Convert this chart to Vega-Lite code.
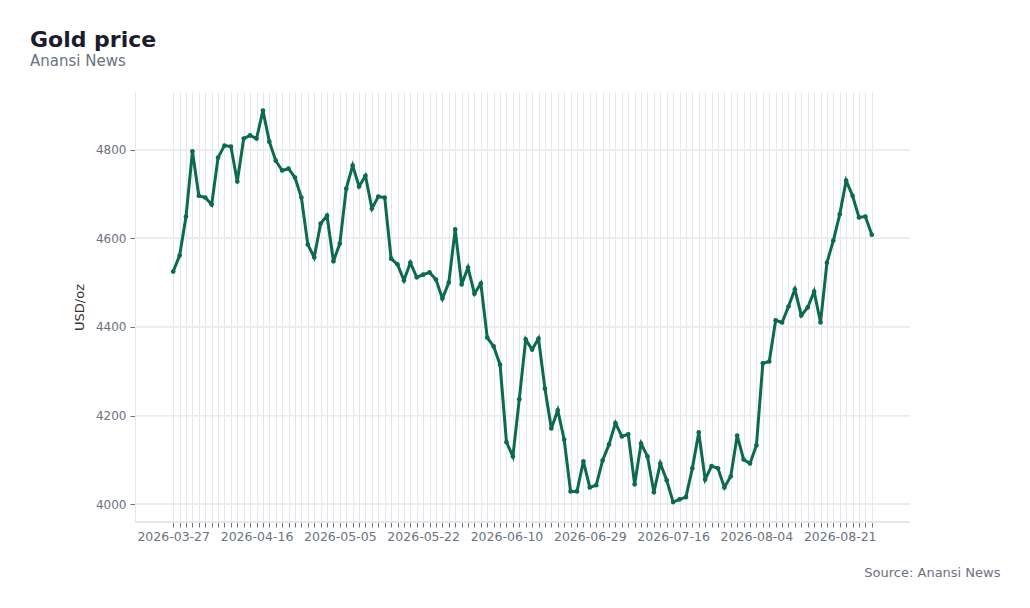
{
  "$schema": "https://vega.github.io/schema/vega-lite/v6.json",
  "autosize": {"type": "none"},
  "width": 775,
  "height": 430,
  "padding": {"left": 135, "top": 92, "right": 120, "bottom": 86},
  "background": "#ffffff",
  "title": {
    "text": "Gold price",
    "subtitle": "Anansi News",
    "anchor": "start",
    "frame": "group",
    "dx": -105,
    "offset": 22,
    "font": "DejaVu Sans",
    "fontSize": 22,
    "fontWeight": "bold",
    "color": "#1c1c2e",
    "subtitleFont": "DejaVu Sans",
    "subtitleFontSize": 15,
    "subtitleColor": "#6b7280",
    "subtitlePadding": 2
  },
  "config": {
    "view": {"stroke": null},
    "font": "DejaVu Sans",
    "axis": {
      "labelFont": "DejaVu Sans",
      "titleFont": "DejaVu Sans",
      "labelColor": "#6b7280",
      "labelFontSize": 12,
      "gridColor": "#e5e7eb",
      "gridWidth": 1,
      "domainColor": "#e5e7eb",
      "tickColor": "#6b7280",
      "tickSize": 5
    }
  },
  "data": {
    "values": [
      {"date": "2026-03-27", "price": 4525},
      {"date": "2026-03-30", "price": 4561},
      {"date": "2026-03-31", "price": 4649},
      {"date": "2026-04-01", "price": 4796},
      {"date": "2026-04-02", "price": 4696},
      {"date": "2026-04-06", "price": 4692},
      {"date": "2026-04-07", "price": 4676},
      {"date": "2026-04-08", "price": 4782},
      {"date": "2026-04-09", "price": 4809},
      {"date": "2026-04-10", "price": 4807},
      {"date": "2026-04-13", "price": 4728},
      {"date": "2026-04-14", "price": 4825},
      {"date": "2026-04-15", "price": 4832},
      {"date": "2026-04-16", "price": 4825},
      {"date": "2026-04-17", "price": 4888},
      {"date": "2026-04-20", "price": 4818},
      {"date": "2026-04-21", "price": 4775},
      {"date": "2026-04-22", "price": 4753},
      {"date": "2026-04-23", "price": 4757},
      {"date": "2026-04-24", "price": 4737},
      {"date": "2026-04-27", "price": 4692},
      {"date": "2026-04-28", "price": 4586},
      {"date": "2026-04-29", "price": 4557},
      {"date": "2026-04-30", "price": 4633},
      {"date": "2026-05-01", "price": 4651},
      {"date": "2026-05-04", "price": 4548},
      {"date": "2026-05-05", "price": 4588},
      {"date": "2026-05-06", "price": 4712},
      {"date": "2026-05-07", "price": 4764},
      {"date": "2026-05-08", "price": 4717},
      {"date": "2026-05-11", "price": 4741},
      {"date": "2026-05-12", "price": 4667},
      {"date": "2026-05-13", "price": 4694},
      {"date": "2026-05-14", "price": 4692},
      {"date": "2026-05-15", "price": 4554},
      {"date": "2026-05-18", "price": 4541},
      {"date": "2026-05-19", "price": 4505},
      {"date": "2026-05-20", "price": 4545},
      {"date": "2026-05-21", "price": 4512},
      {"date": "2026-05-22", "price": 4518},
      {"date": "2026-05-25", "price": 4523},
      {"date": "2026-05-26", "price": 4507},
      {"date": "2026-05-27", "price": 4464},
      {"date": "2026-05-28", "price": 4500},
      {"date": "2026-05-29", "price": 4620},
      {"date": "2026-06-01", "price": 4496},
      {"date": "2026-06-02", "price": 4534},
      {"date": "2026-06-03", "price": 4475},
      {"date": "2026-06-04", "price": 4498},
      {"date": "2026-06-05", "price": 4376},
      {"date": "2026-06-08", "price": 4356},
      {"date": "2026-06-09", "price": 4315},
      {"date": "2026-06-10", "price": 4140},
      {"date": "2026-06-11", "price": 4108},
      {"date": "2026-06-12", "price": 4237},
      {"date": "2026-06-15", "price": 4372},
      {"date": "2026-06-16", "price": 4349},
      {"date": "2026-06-17", "price": 4374},
      {"date": "2026-06-18", "price": 4261},
      {"date": "2026-06-19", "price": 4171},
      {"date": "2026-06-22", "price": 4212},
      {"date": "2026-06-23", "price": 4146},
      {"date": "2026-06-24", "price": 4029},
      {"date": "2026-06-25", "price": 4029},
      {"date": "2026-06-26", "price": 4097},
      {"date": "2026-06-29", "price": 4038},
      {"date": "2026-06-30", "price": 4043},
      {"date": "2026-07-01", "price": 4099},
      {"date": "2026-07-02", "price": 4135},
      {"date": "2026-07-03", "price": 4183},
      {"date": "2026-07-06", "price": 4153},
      {"date": "2026-07-07", "price": 4158},
      {"date": "2026-07-08", "price": 4045},
      {"date": "2026-07-09", "price": 4137},
      {"date": "2026-07-10", "price": 4108},
      {"date": "2026-07-13", "price": 4027},
      {"date": "2026-07-14", "price": 4092},
      {"date": "2026-07-15", "price": 4054},
      {"date": "2026-07-16", "price": 4005},
      {"date": "2026-07-17", "price": 4011},
      {"date": "2026-07-20", "price": 4016},
      {"date": "2026-07-21", "price": 4081},
      {"date": "2026-07-22", "price": 4162},
      {"date": "2026-07-23", "price": 4056},
      {"date": "2026-07-24", "price": 4086},
      {"date": "2026-07-27", "price": 4081},
      {"date": "2026-07-28", "price": 4038},
      {"date": "2026-07-29", "price": 4063},
      {"date": "2026-07-30", "price": 4155},
      {"date": "2026-07-31", "price": 4101},
      {"date": "2026-08-03", "price": 4092},
      {"date": "2026-08-04", "price": 4133},
      {"date": "2026-08-05", "price": 4318},
      {"date": "2026-08-06", "price": 4322},
      {"date": "2026-08-07", "price": 4415},
      {"date": "2026-08-10", "price": 4410},
      {"date": "2026-08-11", "price": 4446},
      {"date": "2026-08-12", "price": 4485},
      {"date": "2026-08-13", "price": 4426},
      {"date": "2026-08-14", "price": 4444},
      {"date": "2026-08-17", "price": 4480},
      {"date": "2026-08-18", "price": 4410},
      {"date": "2026-08-19", "price": 4545},
      {"date": "2026-08-20", "price": 4595},
      {"date": "2026-08-21", "price": 4654},
      {"date": "2026-08-24", "price": 4730},
      {"date": "2026-08-25", "price": 4696},
      {"date": "2026-08-26", "price": 4647},
      {"date": "2026-08-27", "price": 4649},
      {"date": "2026-08-28", "price": 4608}
    ]
  },
  "layer": [
    {"mark": {"type": "rule", "color": "#e5e7eb", "strokeWidth": 1}, "encoding": {"y": {"datum": 3960, "scale": {"domain": [3960, 4930], "nice": false, "zero": false}}}},
    {"mark": {"type": "rule", "color": "#eaecef", "strokeWidth": 1}, "encoding": {"y": {"datum": 4000}}},
    {"mark": {"type": "rule", "color": "#eaecef", "strokeWidth": 1}, "encoding": {"y": {"datum": 4200}}},
    {"mark": {"type": "rule", "color": "#eaecef", "strokeWidth": 1}, "encoding": {"y": {"datum": 4400}}},
    {"mark": {"type": "rule", "color": "#eaecef", "strokeWidth": 1}, "encoding": {"y": {"datum": 4600}}},
    {"mark": {"type": "rule", "color": "#eaecef", "strokeWidth": 1}, "encoding": {"y": {"datum": 4800}}},
    {
      "mark": {"type": "line", "color": "#0b6b4b", "strokeWidth": 3},
      "encoding": {
        "x": {
          "field": "date",
          "type": "ordinal",
          "scale": {"type": "point", "range": [35, 740]},
          "axis": {
            "title": "Source: Anansi News",
            "titleFont": "DejaVu Sans",
            "titleFontSize": 13,
            "titleFontWeight": "normal",
            "titleColor": "#6b7280",
            "titleAnchor": "end",
            "titleAlign": "right",
            "titleBaseline": "alphabetic",
            "titleX": 865,
            "titleY": 54,
            "domain": false,
            "labelAngle": 0,
            "labelPadding": 3,
            "labelFontSize": 12.5,
            "labelOverlap": false,
            "labelExpr": "indexof(['2026-03-27','2026-04-16','2026-05-05','2026-05-22','2026-06-10','2026-06-29','2026-07-16','2026-08-04','2026-08-21'], datum.label) >= 0 ? datum.label : ''",
            "grid": true
          }
        },
        "y": {
          "field": "price",
          "type": "quantitative",
          "scale": {"domain": [3960, 4930], "nice": false, "zero": false},
          "axis": {
            "title": "USD/oz",
            "titleFont": "DejaVu Sans",
            "titleFontSize": 13,
            "titleFontWeight": "normal",
            "titleColor": "#333333",
            "titlePadding": 9,
            "format": "d",
            "values": [4000, 4200, 4400, 4600, 4800],
            "labelPadding": 4,
            "grid": false
          }
        }
      }
    },
    {
      "mark": {"type": "point", "filled": true, "opacity": 1, "color": "#0b6b4b", "size": 22},
      "encoding": {
        "x": {"field": "date", "type": "ordinal"},
        "y": {"field": "price", "type": "quantitative"}
      }
    }
  ]
}
